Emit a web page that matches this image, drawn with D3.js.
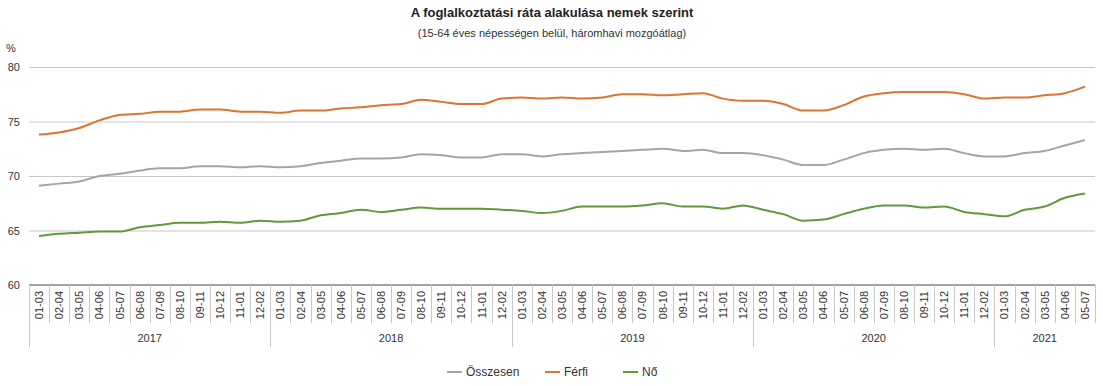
<!DOCTYPE html>
<html>
<head>
<meta charset="utf-8">
<script src="https://d3js.org/d3.v7.min.js"></script>
<style>
body {margin:0; background:#fff;}
text {font-family: "Liberation Sans", Arial, sans-serif; fill:#333;}
</style>
</head>
<body>
<svg id="chart" width="1103" height="386"></svg>
<script>
// periods (moving 3-month windows) per year
var years = ["2017", "2018", "2019", "2020", "2021"];
var periods = ["01-03","02-04","03-05","04-06","05-07","06-08","07-09","08-10","09-11","10-12","11-01","12-02"];
var periodsLastYear = ["01-03","02-04","03-05","04-06","05-07"];

var osszesen = [69.1,69.3,69.5,70.0,70.2,70.5,70.7,70.7,70.9,70.9,70.8,70.9,
                70.8,70.9,71.2,71.4,71.6,71.6,71.7,72.0,71.9,71.7,71.7,72.0,
                72.0,71.8,72.0,72.1,72.2,72.3,72.4,72.5,72.3,72.4,72.1,72.1,
                71.9,71.5,71.0,71.0,71.5,72.1,72.4,72.5,72.4,72.5,72.1,71.8,
                71.8,72.1,72.3,72.8,73.3];
var ferfi = [73.8,74.0,74.4,75.1,75.6,75.7,75.9,75.9,76.1,76.1,75.9,75.9,
             75.8,76.0,76.0,76.2,76.3,76.5,76.6,77.0,76.8,76.6,76.6,77.1,
             77.2,77.1,77.2,77.1,77.2,77.5,77.5,77.4,77.5,77.6,77.1,76.9,
             76.9,76.6,76.0,76.0,76.5,77.3,77.6,77.7,77.7,77.7,77.5,77.1,
             77.2,77.2,77.4,77.6,78.2];
var no = [64.5,64.7,64.8,64.9,64.9,65.3,65.5,65.7,65.7,65.8,65.7,65.9,
          65.8,65.9,66.4,66.6,66.9,66.7,66.9,67.1,67.0,67.0,67.0,66.9,
          66.8,66.6,66.8,67.2,67.2,67.2,67.3,67.5,67.2,67.2,67.0,67.3,
          66.9,66.5,65.9,66.0,66.5,67.0,67.3,67.3,67.1,67.2,66.7,66.5,
          66.3,66.9,67.2,68.0,68.4];
var yTicks = [60, 65, 70, 75, 80];

var categories = [];
years.forEach(function(y) {
  var ps = (y === "2021") ? periodsLastYear : periods;
  ps.forEach(function(p) { categories.push({year: y, period: p, key: y + "|" + p}); });
});

var series = [
  {name: "Összesen", values: osszesen, color: "#a5a5a5"},
  {name: "Férfi", values: ferfi, color: "#dc7432"},
  {name: "Nő", values: no, color: "#5f9a3b"}
];

var svg = d3.select("#chart");
var mLeft = 29, mRight = 1095, mTop = 67, mBottom = 285;

var x = d3.scaleBand().domain(categories.map(function(d){return d.key;})).range([mLeft, mRight]);
var y = d3.scaleLinear().domain([60, 80]).range([mBottom, mTop]);

// title
svg.append("text").attr("x", 552).attr("y", 17).attr("text-anchor", "middle")
  .style("font-size", "13px").style("font-weight", "bold").style("fill", "#222")
  .text("A foglalkoztatási ráta alakulása nemek szerint");
svg.append("text").attr("x", 552).attr("y", 37).attr("text-anchor", "middle")
  .style("font-size", "11px")
  .text("(15-64 éves népességen belül, háromhavi mozgóátlag)");
svg.append("text").attr("x", 6).attr("y", 52).style("font-size", "11px").text("%");

// gridlines + y labels
var yAxis = svg.append("g").attr("transform", "translate(" + mLeft + ",0)")
  .call(d3.axisLeft(y).tickValues(yTicks).tickSize(-(mRight - mLeft)).tickPadding(9));
yAxis.select(".domain").remove();
yAxis.selectAll(".tick line").attr("stroke", "#c8c8c8");
yAxis.selectAll(".tick").filter(function(d){return d === 60;}).select("line").remove();
yAxis.selectAll(".tick text").style("font-size", "11px").style("fill", "#333")
  .attr("font-family", "Liberation Sans, Arial, sans-serif");

// x axis line
svg.append("line").attr("x1", mLeft).attr("x2", mRight).attr("y1", mBottom).attr("y2", mBottom)
  .attr("stroke", "#444").attr("stroke-width", 1);

// category separators
var bw = x.bandwidth();
categories.forEach(function(d, i) {
  var x0 = Math.round(x(d.key)) + 0.5;
  var isYearStart = (i === 0) || categories[i - 1].year !== d.year;
  svg.append("line").attr("x1", x0).attr("x2", x0).attr("y1", mBottom)
    .attr("y2", isYearStart ? 347 : 323).attr("stroke", "#c8c8c8");
});
svg.append("line").attr("x1", mRight + 0.5).attr("x2", mRight + 0.5).attr("y1", mBottom).attr("y2", 323).attr("stroke", "#c8c8c8");

// period labels (rotated)
svg.append("g").selectAll("text").data(categories).enter().append("text")
  .attr("transform", function(d){ return "translate(" + (x(d.key) + bw / 2 + 4) + ",291) rotate(-90)"; })
  .attr("text-anchor", "end")
  .style("font-size", "11px")
  .text(function(d){ return d.period; });

// year labels
years.forEach(function(yr) {
  var cs = categories.filter(function(c){ return c.year === yr; });
  var x0 = x(cs[0].key), x1 = x(cs[cs.length - 1].key) + bw;
  svg.append("text").attr("x", (x0 + x1) / 2).attr("y", 342).attr("text-anchor", "middle")
    .style("font-size", "11px").text(yr);
});

// lines
var line = d3.line()
  .x(function(d, i){ return x(categories[i].key) + bw / 2; })
  .y(function(d){ return y(d); })
  .curve(d3.curveMonotoneX);

series.forEach(function(s) {
  svg.append("path").datum(s.values).attr("d", line)
    .attr("fill", "none").attr("stroke", s.color).attr("stroke-width", 2);
});

// legend
var legendX = [447, 545, 623];
series.forEach(function(s, i) {
  var g = svg.append("g").attr("transform", "translate(" + legendX[i] + ",372)");
  g.append("line").attr("x1", 0).attr("x2", 15).attr("y1", 0).attr("y2", 0)
    .attr("stroke", s.color).attr("stroke-width", 2);
  g.append("text").attr("x", 19).attr("y", 4).style("font-size", "12px").text(s.name);
});
</script>
</body>
</html>
